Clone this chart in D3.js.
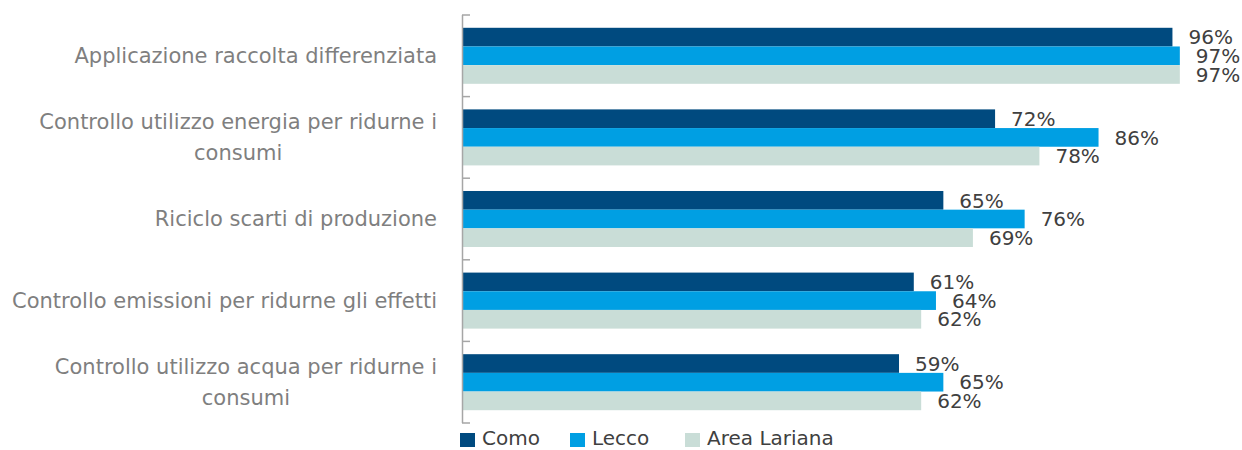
<!DOCTYPE html>
<html>
<head>
<meta charset="utf-8">
<script src="https://cdn.jsdelivr.net/npm/d3@7"></script>
<style>
  body { margin: 0; background: #fff; }
  svg { display: block; font-family: "DejaVu Sans", "Open Sans", sans-serif; }
</style>
</head>
<body>
<svg width="1242" height="450"></svg>
<script>
var categories = [
  ["Applicazione raccolta differenziata"],
  ["Controllo utilizzo energia per ridurne i", "consumi"],
  ["Riciclo scarti di produzione"],
  ["Controllo emissioni per ridurne gli effetti"],
  ["Controllo utilizzo acqua per ridurne i", "consumi"]
];
var seriesNames = ["Como", "Lecco", "Area Lariana"];
var como = [0.96, 0.72, 0.65, 0.61, 0.59];
var lecco = [0.97, 0.86, 0.76, 0.64, 0.65];
var areaLariana = [0.97, 0.78, 0.69, 0.62, 0.62];
var colors = ["#004A7F", "#009FE3", "#C9DDD7"];

var series = [como, lecco, areaLariana];
var svg = d3.select('svg');

var x = d3.scaleLinear()
          .domain([0, 1])
          .range([463, 1202]);

var y = d3.scaleBand()
          .domain(d3.range(categories.length))
          .range([15, 423]);

var inner = d3.scaleBand()
              .domain(d3.range(series.length))
              .range([0, y.bandwidth()])
              .paddingOuter(0.685);

// bars
series.forEach((vals, s) => {
  svg.append('g')
    .selectAll('rect')
    .data(vals)
    .enter()
    .append('rect')
      .attr('x', x(0))
      .attr('y', (d, i) => y(i) + inner(s))
      .attr('width', d => x(d) - x(0))
      .attr('height', inner.bandwidth())
      .style('fill', colors[s]);

  svg.append('g')
    .selectAll('text')
    .data(vals)
    .enter()
    .append('text')
      .attr('x', d => x(d) + 16)
      .attr('y', (d, i) => y(i) + inner(s) + inner.bandwidth() / 2)
      .attr('dy', '0.36em')
      .style('font-size', '20px')
      .style('fill', '#404040')
      .text(d => d3.format('.0%')(d));
});

// axis with ticks pointing inward at band edges
var axisG = svg.append('g').attr('class', 'axis');
axisG.append('line')
  .attr('x1', x(0) - 0.5).attr('x2', x(0) - 0.5)
  .attr('y1', y.range()[0]).attr('y2', y.range()[1])
  .style('stroke', '#A6A6A6').style('stroke-width', 1.5);
axisG.selectAll('line.tick')
  .data(d3.range(categories.length + 1))
  .enter()
  .append('line')
    .attr('class', 'tick')
    .attr('x1', x(0) - 1).attr('x2', x(0) + 7)
    .attr('y1', i => i < categories.length ? y(i) : y.range()[1])
    .attr('y2', i => i < categories.length ? y(i) : y.range()[1])
    .style('stroke', '#A6A6A6').style('stroke-width', 1.5);

// category labels: right aligned block, lines centered within block
var labelRight = 437;
var lineH = 31;
categories.forEach((lines, i) => {
  var g = svg.append('g');
  var texts = g.selectAll('text')
    .data(lines)
    .enter()
    .append('text')
      .style('font-size', '21px')
      .style('fill', '#7F7F7F')
      .attr('text-anchor', 'middle')
      .text(d => d);
  var widths = texts.nodes().map(n => n.getComputedTextLength());
  var blockW = d3.max(widths);
  var cy = y(i) + y.bandwidth() / 2;
  var top = cy - (lines.length - 1) * lineH / 2;
  texts
    .attr('x', labelRight - blockW / 2)
    .attr('y', (d, j) => top + j * lineH)
    .attr('dy', '0.35em');
});

// legend
var legendX = [460, 570, 685];
var legend = svg.append('g')
  .selectAll('g')
  .data(seriesNames)
  .enter()
  .append('g')
    .attr('transform', (d, i) => 'translate(' + legendX[i] + ',433)');
legend.append('rect')
  .attr('width', 15).attr('height', 14)
  .style('fill', (d, i) => colors[i]);
legend.append('text')
  .attr('x', 22).attr('y', 12)
  .style('font-size', '20px')
  .style('fill', '#404040')
  .text(d => d);
</script>
</body>
</html>
